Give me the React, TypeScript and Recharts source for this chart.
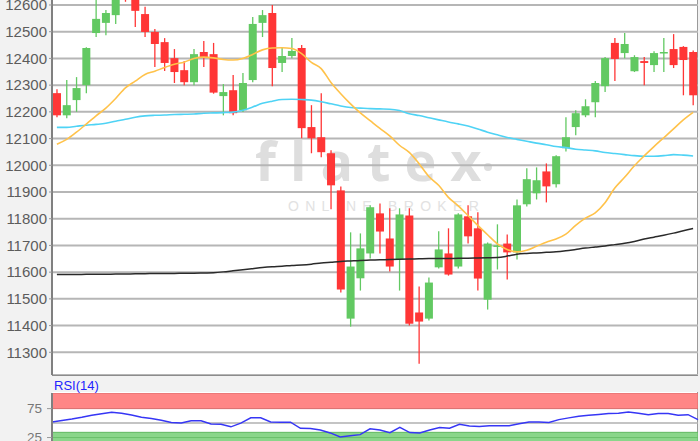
import React from 'react';
import {
  ComposedChart,
  Bar,
  Line,
  XAxis,
  YAxis,
  CartesianGrid,
  ReferenceArea,
  ReferenceLine,
} from 'recharts';

// OHLC per session
const opens = [
  12270, 12187, 12244, 12300, 12495, 12533, 12562, 12690, 12650, 12566, 12499, 12461, 12401, 12356,
  12311, 12424, 12416, 12259, 12281, 12206, 12319, 12533, 12570, 12383, 12409, 12439, 12143, 12105,
  12045, 11906, 11426, 11577, 11670, 11820, 11726, 11647, 11812, 11449, 11426, 11618, 11670, 11621,
  11809, 11764, 11497, 11696, 11707, 11674, 11854, 11895, 11977, 11929, 12064, 12143, 12187, 12236,
  12296, 12458, 12420, 12352, 12390, 12375, 12420, 12435, 12443, 12424,
];
const highs = [
  12285, 12319, 12330, 12442, 12640, 12581, 12690, 12700, 12680, 12593, 12510, 12476, 12435, 12390,
  12435, 12465, 12458, 12304, 12338, 12345, 12555, 12581, 12600, 12443, 12476, 12450, 12225, 12270,
  12056, 11921, 11749, 11745, 11850, 11857, 11839, 11839, 11839, 11546, 11580, 11753, 11764, 11820,
  11850, 11824, 11711, 11779, 11741, 11872, 11989, 11992, 12007, 12038, 12180, 12206, 12247, 12315,
  12405, 12476, 12495, 12412, 12405, 12427, 12476, 12491, 12446, 12430,
];
const lows = [
  12180, 12176, 12200, 12270, 12480, 12487, 12529, 12612, 12518, 12480, 12368, 12353, 12308, 12300,
  12300, 12368, 12268, 12187, 12187, 12199, 12311, 12480, 12296, 12349, 12401, 12101, 12045, 12030,
  11835, 11524, 11396, 11531, 11651, 11670, 11602, 11531, 11400, 11257, 11419, 11614, 11587, 11614,
  11707, 11531, 11460, 11610, 11572, 11647, 11846, 11872, 11861, 11917, 12052, 12112, 12180, 12180,
  12274, 12315, 12401, 12349, 12300, 12349, 12349, 12364, 12262, 12225,
];
const closes = [
  12187, 12225, 12289, 12439, 12548, 12570, 12660, 12640, 12578, 12499, 12454, 12383, 12349, 12311,
  12416, 12405, 12272, 12274, 12195, 12308, 12529, 12562, 12364, 12409, 12428, 12139, 12101, 12049,
  11925, 11535, 11621, 11689, 11843, 11752, 11621, 11816, 11407, 11415, 11561, 11685, 11591, 11816,
  11734, 11576, 11707, 11700, 11674, 11850, 11948, 11944, 11921, 12034, 12105, 12195, 12221, 12308,
  12401, 12398, 12454, 12405, 12383, 12420, 12424, 12375, 12394, 12262,
];

// moving averages as drawn
const maFast = [
  12079, 12097, 12124, 12154, 12185, 12214, 12250, 12290, 12315, 12340, 12352, 12366, 12378, 12386,
  12400, 12405, 12402, 12396, 12394, 12400, 12415, 12432, 12439, 12440, 12437, 12418, 12385, 12362,
  12310, 12268, 12230, 12196, 12167, 12138, 12110, 12075, 12048, 12006, 11958, 11925, 11880, 11848,
  11812, 11775, 11740, 11706, 11685, 11676, 11682, 11697, 11712, 11724, 11742, 11775, 11802, 11822,
  11860, 11915, 11955, 11998, 12035, 12070, 12103, 12136, 12170, 12198,
];
const maMid = [
  12142, 12142, 12146, 12150, 12153, 12157, 12165, 12172, 12180, 12185, 12187, 12188, 12190, 12191,
  12192, 12195, 12196, 12197, 12199, 12206, 12218, 12232, 12240, 12246, 12247, 12246, 12244, 12238,
  12230, 12222, 12216, 12214, 12212, 12211, 12210, 12205, 12193, 12186, 12178, 12170, 12162, 12155,
  12147, 12136, 12124, 12114, 12104, 12097, 12090, 12083, 12077, 12070, 12066, 12060, 12057, 12054,
  12048, 12044, 12040, 12036, 12034, 12034, 12036, 12040, 12038, 12035,
];
const maSlow = [
  11591, 11591, 11591, 11592, 11592, 11592, 11593, 11593, 11594, 11594, 11595, 11595, 11595, 11596,
  11596, 11597, 11598, 11601, 11605, 11609, 11613, 11617, 11620, 11622, 11625, 11627, 11630, 11634,
  11637, 11640, 11642, 11644, 11645, 11646, 11647, 11648, 11649, 11650, 11651, 11651, 11651, 11652,
  11652, 11653, 11654, 11655, 11660, 11667, 11670, 11672, 11674, 11676, 11680, 11685, 11690, 11694,
  11698, 11703, 11708, 11715, 11724, 11731, 11738, 11746, 11755, 11763,
];
const rsi14 = [
  52, 54.5, 57, 60, 63.5, 66, 68.5, 67, 64, 60, 58, 55, 51, 50, 54, 54, 48.5, 48, 43.5, 50, 59, 59,
  52, 51.5, 51.5, 41, 40.5, 38, 33, 26, 28, 30, 40, 38, 33.5, 42.5, 33.5, 33, 38, 42.5, 41, 48, 45,
  44, 45.5, 45.5, 45.5, 49, 52, 52, 51, 56, 59, 62, 63.5, 65, 66.5, 67, 69, 67, 64.5, 66.5, 66.5,
  63.5, 64.5, 56,
];

const priceTicks = [11300, 11400, 11500, 11600, 11700, 11800, 11900, 12000, 12100, 12200, 12300, 12400, 12500, 12600];
const rsiTicks = [25, 75];

const UP = '#62c962';
const DOWN = '#ff3636';

const rows = opens.map((o, i) => ({
  i,
  o,
  h: highs[i],
  l: lows[i],
  c: closes[i],
  range: [lows[i], highs[i]],
  fast: maFast[i],
  mid: maMid[i],
  slow: maSlow[i],
  rsi: rsi14[i],
}));

// wick + body inside the [low, high] bar that recharts positions for us
function Candle(props: any) {
  const { x, y, width, height, payload } = props;
  if (!payload || height == null) return null;
  const { o, h, l, c } = payload;
  const top = Math.min(y, y + height);
  const span = Math.abs(height);
  const k = span / (h - l || 1);
  const cx = x + width / 2;
  const bTop = top + (h - Math.max(o, c)) * k;
  const bBot = top + (h - Math.min(o, c)) * k;
  const color = c >= o ? UP : DOWN;
  return (
    <g>
      <line x1={cx} x2={cx} y1={top} y2={top + span} stroke={color} strokeWidth={1.3} />
      <rect x={cx - 4} y={bTop} width={8} height={Math.max(bBot - bTop, 1.5)} fill={color} />
    </g>
  );
}

const axisFont = { fill: '#5c5c5c', fontSize: 15, fontFamily: '"Liberation Sans", Arial, sans-serif' };

export default function App() {
  return (
    <div
      style={{
        position: 'absolute',
        left: 0,
        top: 0,
        width: 700,
        height: 441,
        overflow: 'hidden',
        background: '#f2f2f2',
      }}
    >
      {/* plot backgrounds */}
      <div
        style={{
          position: 'absolute', left: 52, top: 0, width: 646, height: 376, background: '#fff',
          borderRight: '1px solid #9a9a9a', borderBottom: '2px solid #8c8c8c', boxSizing: 'border-box',
        }}
      />
      <div
        style={{
          position: 'absolute', left: 52, top: 392, width: 646, height: 60, background: '#fff',
          borderRight: '1px solid #9a9a9a', boxSizing: 'border-box',
        }}
      />

      {/* watermark */}
      <div
        style={{
          position: 'absolute', left: 255, top: 133, fontSize: 54, lineHeight: 1, fontWeight: 700,
          letterSpacing: 14, color: '#dedede', fontFamily: '"Open Sans", sans-serif',
        }}
      >
        flatex
      </div>
      <div style={{ position: 'absolute', left: 484, top: 163, width: 8, height: 8, borderRadius: 4, background: '#dedede' }} />
      <div
        style={{
          position: 'absolute', left: 288, top: 199, fontSize: 14, lineHeight: 1, letterSpacing: 6.3,
          color: '#e2e2e2', fontFamily: '"Liberation Sans", Arial, sans-serif',
        }}
      >
        ONLINE BROKER
      </div>

      {/* price panel: plot spans y -22..375, top part cropped */}
      <div style={{ position: 'absolute', left: 0, top: -22 }}>
        <ComposedChart width={700} height={397} data={rows} margin={{ top: 0, right: 2, bottom: 0, left: 0 }}>
          <CartesianGrid horizontal vertical={false} stroke="#b6b6b6" strokeWidth={2} />
          <XAxis dataKey="i" hide />
          <YAxis
            domain={[11215, 12701]}
            ticks={priceTicks}
            width={52}
            tick={axisFont}
            tickSize={3}
            tickMargin={2}
            tickLine={{ stroke: '#999' }}
            axisLine={{ stroke: '#808080', strokeWidth: 2 }}
          />
          <Bar dataKey="range" shape={<Candle />} isAnimationActive={false} />
          <Line type="monotone" dataKey="slow" stroke="#2a2a2a" strokeWidth={1.5} dot={false} isAnimationActive={false} />
          <Line type="monotone" dataKey="mid" stroke="#4fd3f5" strokeWidth={1.6} dot={false} isAnimationActive={false} />
          <Line type="monotone" dataKey="fast" stroke="#ffc24a" strokeWidth={1.6} dot={false} isAnimationActive={false} />
        </ComposedChart>
      </div>

      <div
        style={{
          position: 'absolute', left: 54, top: 379, fontSize: 13, lineHeight: 1, color: '#2323ff',
          fontFamily: '"Liberation Sans", Arial, sans-serif',
        }}
      >
        RSI(14)
      </div>

      {/* RSI panel */}
      <div style={{ position: 'absolute', left: 0, top: 392 }}>
        <ComposedChart width={700} height={60} data={rows} margin={{ top: 1, right: 2, bottom: 0, left: 0 }}>
          <XAxis dataKey="i" hide />
          <YAxis
            domain={[0, 102]}
            ticks={rsiTicks}
            width={52}
            tick={{ ...axisFont, fill: '#777', fontSize: 13.5 }}
            tickSize={5}
            tickMargin={5}
            tickLine={{ stroke: '#999' }}
            axisLine={{ stroke: '#808080', strokeWidth: 2 }}
          />
          <ReferenceArea y1={75} y2={102} fill="#ff8686" fillOpacity={1} stroke="#d96a6a" ifOverflow="hidden" />
          <ReferenceArea y1={0} y2={34} fill="#8ad68a" fillOpacity={1} stroke="#62b962" ifOverflow="hidden" />
          <ReferenceLine y={50} stroke="#b0b0b0" strokeWidth={1.5} />
          <ReferenceLine y={25} stroke="#6cbf6c" strokeWidth={1} />
          <Line type="linear" dataKey="rsi" stroke="#3636f5" strokeWidth={1.5} dot={false} isAnimationActive={false} />
        </ComposedChart>
      </div>
    </div>
  );
}
